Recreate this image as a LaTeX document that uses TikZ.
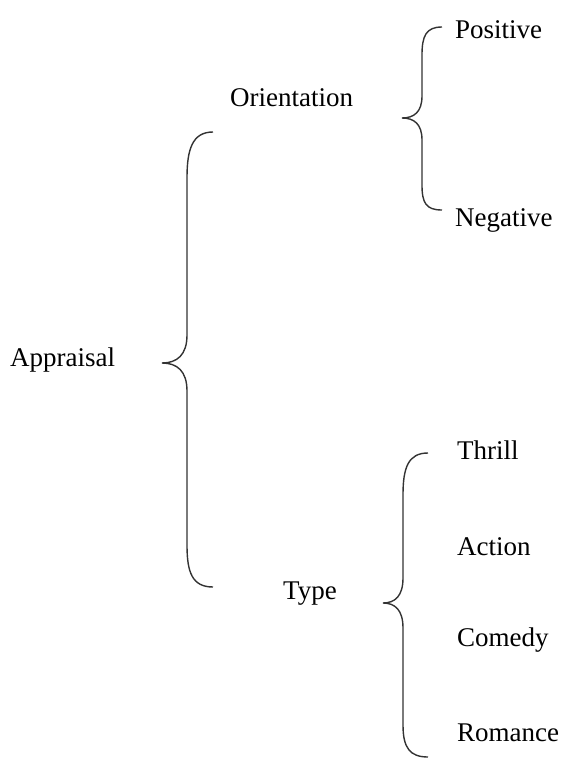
\documentclass[tikz,border=0pt]{standalone}
\usepackage{fontspec}
\setmainfont{Liberation Serif}
\begin{document}
\begin{tikzpicture}[x=1pt,y=-1pt,
  lbl/.style={anchor=base west,inner sep=0pt,font=\fontsize{27}{32}\selectfont},
  brace/.style={draw=black!80,line width=1.4pt}]
\useasboundingbox (0,0) rectangle (564,776);
\node[lbl] (appraisal) at (10,366) {Appraisal};
\node[lbl] (orient) at (230,106) {Orientation};
\node[lbl] (pos) at (455,39) {Positive};
\node[lbl] (neg) at (455,226) {Negative};
\node[lbl] (type) at (283,599) {Type};
\node[lbl] (thrill) at (457,459) {Thrill};
\node[lbl] (action) at (457,555) {Action};
\node[lbl] (comedy) at (457,646) {Comedy};
\node[lbl] (romance) at (457,741) {Romance};
% big brace
\draw[brace] (213,132) .. controls (192,132) and (187,150) .. (187,178) -- (187,335)
  .. controls (187,355) and (177,363) .. (162,363)
  .. controls (177,363) and (187,371) .. (187,391) -- (187,545)
  .. controls (187,572) and (192,587) .. (213,587);
% upper small brace
\draw[brace] (442,27) .. controls (426,27) and (422,36) .. (422,55) -- (422,96)
  .. controls (422,112) and (414,118) .. (402,118)
  .. controls (414,118) and (422,124) .. (422,140) -- (422,185)
  .. controls (422,203) and (426,210) .. (442,210);
% lower brace
\draw[brace] (428,453) .. controls (408,453) and (403,468) .. (403,495) -- (403,578)
  .. controls (403,596) and (395,603) .. (383,603)
  .. controls (395,603) and (403,610) .. (403,628) -- (403,725)
  .. controls (403,748) and (410,757) .. (428,757);
\end{tikzpicture}
\end{document}
